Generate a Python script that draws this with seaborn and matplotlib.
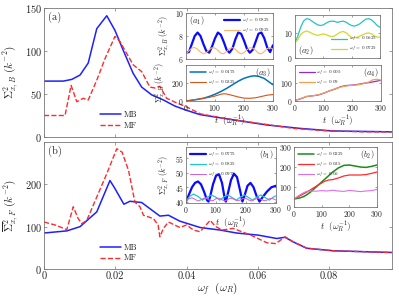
import numpy as np
import pandas as pd
import seaborn as sns
import matplotlib
matplotlib.use('Agg')
import matplotlib.pyplot as plt

sns.set_style('ticks')
plt.rcParams['font.family'] = 'serif'
plt.rcParams['font.serif'] = ['cmr10', 'DejaVu Serif']
plt.rcParams['mathtext.fontset'] = 'cm'
plt.rcParams['axes.unicode_minus'] = False
plt.rcParams['axes.formatter.use_mathtext'] = True

# ---------- main panels ----------
wf_a_mb = [0, 0.0054, 0.0078, 0.0101, 0.0124, 0.0148, 0.0176, 0.0199, 0.0222, 0.025, 0.0274,
           0.0302, 0.0335, 0.0367, 0.04, 0.0438, 0.053, 0.0625, 0.0718, 0.081, 0.0975]
sig_a_mb = [65, 65, 67, 72, 86, 126, 141, 124, 101, 74, 58, 49, 43, 36, 31, 26, 20, 14, 10, 7, 6]

wf_a_mf = [0, 0.0059, 0.0076, 0.0092, 0.011, 0.0124, 0.0148, 0.0171, 0.0199, 0.0213, 0.0232,
           0.025, 0.0274, 0.0297, 0.0311, 0.0325, 0.0344, 0.037, 0.04, 0.0438, 0.05, 0.055,
           0.06, 0.065, 0.07, 0.08, 0.09, 0.0975]
sig_a_mf = [25, 25, 60, 41, 45, 43, 66, 91, 117, 111, 97, 84, 76, 58, 57, 59, 45, 40, 35, 27,
            22, 19, 16, 13, 10, 7, 6, 6]

wf_b_mb = [0, 0.0064, 0.0101, 0.0148, 0.0185, 0.0199, 0.0224, 0.0241, 0.0274, 0.0325, 0.0349,
           0.0381, 0.0438, 0.0494, 0.054, 0.0601, 0.0653, 0.0676, 0.0699, 0.0737, 0.0812, 0.0975]
sig_b_mb = [85, 90, 100, 135, 209, 190, 153, 160, 157, 125, 127, 113, 98, 92, 85, 80, 72, 75,
            64, 49, 43, 39]

wf_b_mf = [0, 0.0031, 0.0064, 0.0082, 0.0096, 0.0106, 0.012, 0.0148, 0.0176, 0.0204, 0.0219,
           0.0237, 0.0255, 0.0269, 0.0279, 0.0307, 0.032, 0.0325, 0.0335, 0.0349, 0.0381, 0.04,
           0.0419, 0.0438, 0.0466, 0.048, 0.05, 0.053, 0.058, 0.0625, 0.065, 0.0676, 0.0699,
           0.0737, 0.0812, 0.0975]
sig_b_mf = [111, 104, 93, 147, 119, 107, 115, 170, 225, 284, 276, 233, 158, 147, 127, 119, 104,
            76, 96, 111, 98, 104, 92, 88, 115, 101, 92, 96, 80, 62, 60, 76, 64, 49, 43, 39]

# ---------- insets ----------
t10 = list(range(0, 301, 10))

a1_0825 = [6.55, 6.6, 7.3, 8.0, 8.3, 8.0, 7.3, 6.7, 6.55, 7.1, 7.8, 8.3, 8.1, 7.5, 6.8, 6.55,
           6.9, 7.7, 8.3, 8.2, 7.6, 6.9, 6.55, 6.8, 7.5, 8.2, 8.3, 7.8, 7.0, 6.6, 7.2]
a1_0925 = [6.45, 6.7, 6.95, 7.0, 6.85, 6.6, 6.45, 6.55, 6.8, 6.98, 6.95, 6.75, 6.5, 6.45, 6.65,
           6.9, 7.0, 6.85, 6.6, 6.45, 6.55, 6.8, 6.98, 6.95, 6.75, 6.5, 6.45, 6.65, 6.9, 7.0, 6.85]

a2_0625 = [6.2, 9, 12.5, 15, 16, 15.8, 15, 14.2, 13.5, 13.2, 13.5, 14.2, 14.8, 15, 14.9, 14.5,
           14.8, 15, 14.6, 13.8, 13.2, 13, 13.4, 14, 15, 15.8, 16, 15.5, 14.5, 13.2, 12.5]
a2_0725 = [6.2, 7.5, 9.5, 10.5, 11, 10.6, 10, 9.5, 9.2, 9.5, 9.8, 9.5, 9.0, 8.7, 9, 9.8, 10.5,
           10.8, 10.3, 9.2, 8.4, 8.2, 8.5, 9, 9.5, 10, 10.2, 9.8, 9, 8.5, 8.5]

t_a3 = [0, 20, 40, 60, 80, 100, 120, 140, 160, 180, 200, 220, 235, 250, 270, 285, 300]
a3_0175 = [0, 8, 18, 30, 50, 75, 105, 140, 180, 220, 252, 272, 280, 275, 250, 215, 180]
t_a3b = [0, 20, 40, 60, 80, 100, 120, 130, 140, 160, 180, 200, 220, 240, 260, 280, 300]
a3_0325 = [0, 10, 20, 30, 40, 55, 75, 80, 78, 62, 45, 32, 30, 36, 50, 65, 72]

t_a4 = [0, 20, 40, 60, 80, 100, 120, 140, 160, 180, 200, 220, 240, 260, 280, 300]
a4_005 = [3, 12, 24, 28, 32, 42, 55, 65, 78, 84, 86, 90, 96, 100, 106, 112]
t_a4b = [0, 20, 40, 60, 80, 100, 120, 140, 160, 180, 200, 220, 240, 260, 270, 285, 300]
a4_09 = [3, 13, 25, 28, 33, 43, 55, 66, 76, 82, 85, 88, 94, 104, 114, 118, 113]

t_b1 = [0, 10, 20, 30, 40, 50, 60, 70, 75, 80, 90, 100, 110, 120, 130, 133, 140, 150, 160, 170,
        180, 188, 195, 205, 215, 225, 235, 245, 255, 270, 285, 300]
b1_0775 = [40, 42.5, 45, 46.5, 47, 46, 43.5, 40.5, 40, 41.5, 46, 49, 49.5, 46.5, 40.5, 40, 43,
           47.5, 49.7, 48.5, 44, 40, 42, 45.5, 46.5, 45, 42, 40, 41.5, 43.5, 45, 45.5]
t_b1c = [0, 12, 25, 40, 55, 70, 85, 100, 112, 125, 140, 155, 168, 180, 195, 210, 222, 235, 250,
         265, 278, 290, 300]
b1_0825 = [40, 41.8, 42.6, 41.8, 40.5, 41.5, 42.3, 41.5, 40.5, 41.5, 42.3, 41.3, 40.5, 41.5,
           42.3, 41.3, 40.5, 41.5, 42.3, 41.3, 40.5, 41.5, 42]
b1_0975 = [40, 41, 41.3, 40.8, 40.2, 40.6, 41.2, 41, 40.4, 40.3, 41, 41.2, 40.6, 40.2, 40.8,
           41.2, 40.8, 40.3, 40.5, 41.1, 41.1, 40.5, 40.2, 40.8, 41.2, 40.8, 40.3, 40.5, 41.1,
           41, 40.5]

t_b2g = [0, 20, 35, 45, 60, 80, 100, 120, 140, 160, 180, 200, 220, 240, 260, 280, 300]
b2_0225 = [40, 45, 52, 60, 75, 100, 125, 150, 175, 195, 208, 210, 205, 200, 198, 203, 210]
t_b2r = [0, 20, 40, 55, 70, 90, 110, 125, 140, 160, 180, 200, 220, 240, 260, 280, 300]
b2_035 = [40, 55, 70, 82, 95, 112, 128, 135, 137, 145, 155, 160, 160, 160, 162, 168, 175]
t_b2v = [0, 15, 30, 45, 60, 80, 100, 120, 140, 160, 180, 200, 220, 240, 260, 280, 300]
b2_06 = [40, 55, 68, 78, 80, 79, 82, 80, 84, 80, 78, 83, 80, 77, 80, 82, 88]

W, H = 399, 296
fig = plt.figure(figsize=(W / 100, H / 100), dpi=100)


def box(l, t, r, b):
    return [l / W, 1 - b / H, (r - l) / W, (b - t) / H]


def style(ax, fs):
    for s in ax.spines.values():
        s.set_color('#777777')
        s.set_linewidth(0.6)
    ax.tick_params(direction='in', top=True, right=True, labelsize=fs, length=2,
                   width=0.5, color='#777777', pad=1.5)


axa = fig.add_axes(box(44, 8, 392, 137))
axb = fig.add_axes(box(44, 142, 392, 269))

sns.lineplot(x=wf_a_mb, y=sig_a_mb, ax=axa, color='#1f1fff', lw=1.1, label='MB')
sns.lineplot(x=wf_a_mf, y=sig_a_mf, ax=axa, color='#ff2a2a', lw=1.0, linestyle='--', label='MF')
sns.lineplot(x=wf_b_mb, y=sig_b_mb, ax=axb, color='#1f1fff', lw=1.1, label='MB')
sns.lineplot(x=wf_b_mf, y=sig_b_mf, ax=axb, color='#ff2a2a', lw=1.0, linestyle='--', label='MF')

for ax in (axa, axb):
    style(ax, 7.5)
    ax.set_xlim(0, 0.0976)
    ax.set_xticks([0, 0.02, 0.04, 0.06, 0.08])
    ax.xaxis.set_major_formatter(matplotlib.ticker.FuncFormatter(lambda v, p: '0' if v == 0 else f'{v:g}'))
    ax.legend(loc='upper left', bbox_to_anchor=(0.15, 0.23), frameon=False, fontsize=6,
              handlelength=2.6, labelspacing=0.3, handletextpad=0.3, borderaxespad=0)

axa.set_ylim(0, 150)
axa.set_yticks([0, 50, 100, 150])
axa.tick_params(labelbottom=False)
axa.set_ylabel(r'$\Sigma^2_{x,B}\ (k^{-2})$', fontsize=8)
axa.yaxis.set_label_coords(-0.07, 0.5)
axa.text(0.012, 0.93, '(a)', transform=axa.transAxes, fontsize=7.5, va='center')

axb.set_ylim(0, 300)
axb.set_yticks([0, 100, 200])
axb.set_ylabel(r'$\overline{\Sigma}^2_{x,F}\ (k^{-2})$', fontsize=8)
axb.yaxis.set_label_coords(-0.07, 0.5)
axb.set_xlabel(r'$\omega_f\ \ (\omega_R)$', fontsize=8)
axb.xaxis.set_label_coords(0.5, -0.085)
axb.text(0.012, 0.93, '(b)', transform=axb.transAxes, fontsize=7.5, va='center')


def inset(rect, series, ylim, yticks, tag, tagpos, legloc, xlabels, ylabel=None):
    ax = fig.add_axes(box(*rect))
    ax.set_facecolor('white')
    for t, y, c, lw, lab in series:
        sns.lineplot(x=t, y=y, ax=ax, color=c, lw=lw, label=lab)
    style(ax, 5.5)
    ax.set_xlim(0, 300)
    ax.set_xticks([0, 100, 200, 300])
    ax.set_ylim(*ylim)
    ax.set_yticks(yticks)
    ax.tick_params(labelbottom=xlabels, length=1.5)
    if xlabels:
        ax.set_xlabel(r'$t\ \ (\omega_R^{-1})$', fontsize=6.5, labelpad=0.5)
    if ylabel:
        ax.set_ylabel(ylabel, fontsize=6, labelpad=1)
    ax.legend(loc=legloc, frameon=False, fontsize=3.6, handlelength=3.2, labelspacing=0.2,
              handletextpad=0.4, borderaxespad=0.3)
    ax.text(tagpos[0], tagpos[1], tag, transform=ax.transAxes, fontsize=6,
            ha='right' if tagpos[0] > 0.5 else 'left', va='center')
    return ax


lab = lambda v: r'$\omega_f$ = ' + v
inset((186, 13, 273, 59),
      [(t10, a1_0825, '#0a0aff', 1.6, lab('0.0825')), (t10, a1_0925, '#ffb36b', 0.8, lab('0.0925'))],
      (6, 10), [6, 8, 10], r'$(a_1)$', (0.03, 0.84), 'upper right', False,
      r'$\Sigma^2_{x,B}\ (k^{-2})$')
inset((295, 15, 380, 58),
      [(t10, a2_0625, '#22c4c4', 0.9, lab('0.0625')), (t10, a2_0725, '#d6d62a', 0.9, lab('0.0725'))],
      (0, 17.5), [0, 10], r'$(a_2)$', (0.03, 0.17), 'lower right', False)
inset((186, 65, 273, 101),
      [(t_a3, a3_0175, '#0072bd', 1.1, lab('0.0175')), (t_a3b, a3_0325, '#d95319', 0.8, lab('0.0325'))],
      (0, 400), [0, 200], r'$(a_3)$', (0.97, 0.78), 'upper left', True,
      r'$\Sigma^2_{x,B}\ (k^{-2})$')
inset((295, 65, 381, 101),
      [(t_a4, a4_005, '#8a2be2', 0.9, lab('0.005')), (t_a4b, a4_09, '#f4a050', 0.9, lab('0.09'))],
      (0, 195), [0, 100], r'$(a_4)$', (0.97, 0.78), 'upper left', True)
inset((186, 147, 276, 203),
      [(t_b1, b1_0775, '#0a0aff', 1.6, lab('0.0775')), (t_b1c, b1_0825, '#1ec8c8', 0.9, lab('0.0825')),
       (t10, b1_0975, '#d060d8', 0.7, lab('0.0975'))],
      (39.5, 59), [40, 45, 50, 55], r'$(b_1)$', (0.97, 0.86), 'upper left', True,
      r'$\Sigma^2_{x,F}\ (k^{-2})$')
inset((294, 147, 377, 207),
      [(t_b2g, b2_0225, '#1a8c1a', 1.1, lab('0.0225')), (t_b2r, b2_035, '#ff2a2a', 0.9, lab('0.035')),
       (t_b2v, b2_06, '#e070e8', 0.8, lab('0.06'))],
      (0, 300), [0, 100, 200, 300], r'$(b_2)$', (0.97, 0.88), 'upper left', True)

fig.savefig('out.png', dpi=100)
